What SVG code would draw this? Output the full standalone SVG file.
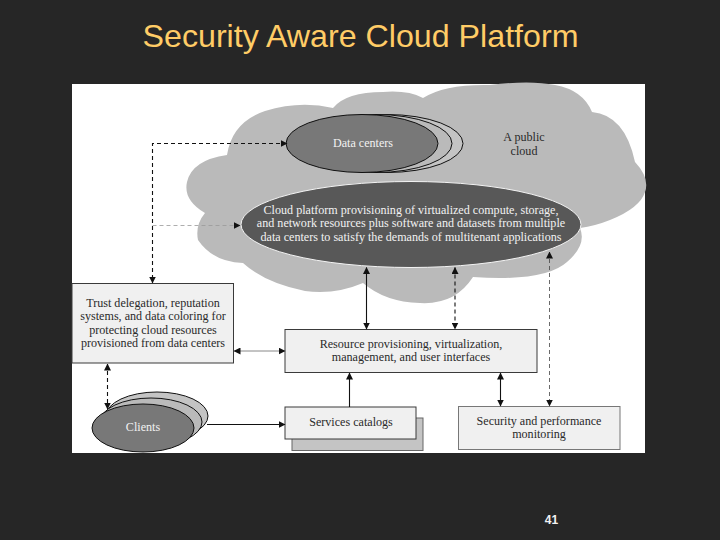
<svg xmlns="http://www.w3.org/2000/svg" width="720" height="540" viewBox="0 0 720 540">
<style>
.d{font-family:"Liberation Serif",serif;font-size:12.100px;text-anchor:middle;fill:#2a2a2a}
.w{font-family:"Liberation Serif",serif;font-size:12.100px;text-anchor:middle;fill:#f2f2f2}
.box{fill:#f0f0f0;stroke:#3a3a3a;stroke-width:1}
.c{fill:none;stroke:#111;stroke-width:1.1}
.ds{stroke-dasharray:4 3}
.lg{fill:none;stroke:#999;stroke-width:.8;stroke-dasharray:4 3}
</style>
<defs>
<marker id="a" markerWidth="7" markerHeight="7" refX="6.500" refY="3.500" orient="auto-start-reverse" markerUnits="userSpaceOnUse"><path d="M0 0L7 3.500L0 7Z" fill="#111"/></marker>
</defs>
<rect width="720" height="540" fill="#262626"/>
<text x="360.500" y="47" font-family="Liberation Sans,sans-serif" font-size="32.200" text-anchor="middle" fill="#ffcc66">Security Aware Cloud Platform</text>
<rect x="72" y="84" width="573" height="369" fill="#fff"/>
<path id="cloud" fill="#bababa" d="M227 155Q232 122 265 111Q300 100 333 108Q346 92 383 92Q408 90 423 98Q445 84 490 85Q530 80 555 85Q583 90 592 112Q625 115 635 162Q650 178 645 192Q640 208 610 220Q595 226 580 228Q587 245 567 262Q545 282 473 277Q455 305 420 303Q385 302 363 283Q335 295 305 291Q265 283 243 263Q213 262 198 240Q195 225 205 213Q183 200 187 182Q192 160 227 155Z"/>
<g id="data-centers">
<ellipse cx="387" cy="143.500" rx="76" ry="29" fill="#c4c4c4" stroke="#111"/>
<ellipse cx="376" cy="143.500" rx="76" ry="29" fill="#bababa" stroke="#111"/>
<ellipse cx="362" cy="143.500" rx="76" ry="29" fill="#787878" stroke="#111"/>
<text class="w" x="363" y="147">Data centers</text>
</g>
<g id="public-cloud">
<text class="d" x="524" y="141">A public</text>
<text class="d" x="524" y="155">cloud</text>
</g>
<g id="platform">
<ellipse cx="411" cy="224.500" rx="170" ry="43" fill="#585858" stroke="#f4f4f4"/>
<text class="w" x="411" y="214">Cloud platform provisioning of virtualized compute, storage,</text>
<text class="w" x="411" y="227">and network resources plus software and datasets from multiple</text>
<text class="w" x="411" y="241">data centers to satisfy the demands of multitenant applications</text>
</g>
<g id="trust">
<rect class="box" x="72" y="283.500" width="161.500" height="79.500"/>
<text class="d" x="153" y="307">Trust delegation, reputation</text>
<text class="d" x="153" y="320">systems, and data coloring for</text>
<text class="d" x="153" y="334">protecting cloud resources</text>
<text class="d" x="153" y="347">provisioned from data centers</text>
</g>
<g id="resource">
<rect class="box" x="285" y="329.500" width="252" height="43"/>
<text class="d" x="411" y="348">Resource provisioning, virtualization,</text>
<text class="d" x="411" y="361">management, and user interfaces</text>
</g>
<g id="services">
<rect x="292" y="418" width="131" height="32.500" fill="#c4c4c4" stroke="#666"/>
<rect class="box" x="285" y="407" width="131" height="32"/>
<text class="d" x="351" y="426">Services catalogs</text>
</g>
<g id="security">
<rect class="box" x="458.500" y="406.500" width="161.500" height="43" style="stroke:#777"/>
<text class="d" x="539" y="425">Security and performance</text>
<text class="d" x="539" y="438">monitoring</text>
</g>
<g id="clients">
<ellipse cx="157" cy="416" rx="51" ry="24" fill="#c4c4c4" stroke="#111"/>
<ellipse cx="151" cy="422" rx="51" ry="24" fill="#bababa" stroke="#111"/>
<ellipse cx="143" cy="428" rx="51" ry="24" fill="#787878" stroke="#111"/>
<text class="w" x="143" y="431">Clients</text>
</g>
<g id="connectors">
<path class="c ds" d="M287 143.500H152.500V283" marker-end="url(#a)"/>
<path class="c ds" d="M287 143.500H152.500" marker-start="url(#a)"/>
<path class="lg" d="M152.500 225.500H240" marker-end="url(#a)"/>
<path class="c" d="M366.500 267.500V329" marker-start="url(#a)" marker-end="url(#a)"/>
<path class="c ds" d="M455 267.500V329" marker-start="url(#a)" marker-end="url(#a)"/>
<path class="c ds" style="stroke:#444;stroke-width:.8" d="M549.500 252V406" marker-start="url(#a)" marker-end="url(#a)"/>
<path class="c" d="M500.500 373V406" marker-start="url(#a)" marker-end="url(#a)"/>
<path class="c" d="M349.500 407V373" marker-end="url(#a)"/>
<path fill="none" stroke="#888" d="M234 351H285" marker-start="url(#a)" marker-end="url(#a)"/>
<path class="c" d="M207 424.500H285" marker-end="url(#a)"/>
<path class="c ds" d="M107.500 364V409" marker-start="url(#a)" marker-end="url(#a)"/>
</g>
<text x="551.500" y="524" font-family="Liberation Sans,sans-serif" font-size="12" font-weight="700" text-anchor="middle" fill="#f2f2f2">41</text>
</svg>
